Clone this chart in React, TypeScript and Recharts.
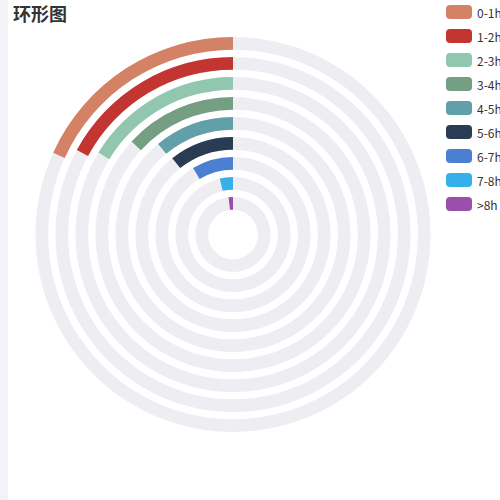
import { RadialBarChart, RadialBar, PolarAngleAxis, Legend } from 'recharts';

const categories = ['0-1h', '1-2h', '2-3h', '3-4h', '4-5h', '5-6h', '6-7h', '7-8h', '>8h'];
const shares = [18.2, 17.1, 16.3, 13.2, 11.0, 10.7, 8.6, 3.7, 1.9];
const colors = ['#d48265', '#c23531', '#91c7ae', '#749f83', '#61a0a8', '#2a3c54', '#4a7fd2', '#35b0ea', '#9b4fad'];

// innermost ring comes first in Recharts, so flip the order
const ringData = categories
  .map((name, i) => ({ name, value: shares[i], fill: colors[i] }))
  .reverse();

const font = '"Noto Sans CJK SC", "Noto Sans", sans-serif';

const renderLegend = () => (
  <div style={{ fontFamily: font }}>
    {categories.map((c, i) => (
      <div key={c} style={{ display: 'flex', alignItems: 'center', height: 24 }}>
        <span
          style={{
            width: 26,
            height: 14,
            borderRadius: 4,
            background: colors[i],
            display: 'inline-block',
            marginRight: 5,
          }}
        />
        <span style={{ fontSize: 12, color: '#333', whiteSpace: 'nowrap' }}>{c}</span>
      </div>
    ))}
  </div>
);

export default function App() {
  return (
    <div
      style={{
        position: 'absolute',
        left: 0,
        top: 0,
        width: 500,
        height: 500,
        overflow: 'hidden',
        background: '#fff',
      }}
    >
      <div style={{ position: 'absolute', left: 0, top: 0, width: 8, height: 500, background: '#f2f2f7' }} />
      <div
        style={{
          position: 'absolute',
          left: 13,
          top: 2,
          fontFamily: font,
          fontSize: 18,
          fontWeight: 'bold',
          color: '#333',
          lineHeight: '22px',
        }}
      >
        环形图
      </div>
      <div style={{ position: 'absolute', left: 0, top: 0 }}>
        <RadialBarChart
          width={560}
          height={500}
          data={ringData}
          cx={233}
          cy={234.5}
          innerRadius={20.85}
          outerRadius={200.85}
          startAngle={90}
          endAngle={450}
          barSize={12.7}
          margin={{ top: 0, right: 0, bottom: 0, left: 0 }}
        >
          <PolarAngleAxis type="number" domain={[0, 100]} tick={false} axisLine={false} />
          <RadialBar dataKey="value" background={{ fill: '#eeedf2' }} isAnimationActive={false} />
          <Legend
            content={renderLegend}
            layout="vertical"
            wrapperStyle={{ position: 'absolute', left: 446, top: 0, width: 120 }}
          />
        </RadialBarChart>
      </div>
    </div>
  );
}
